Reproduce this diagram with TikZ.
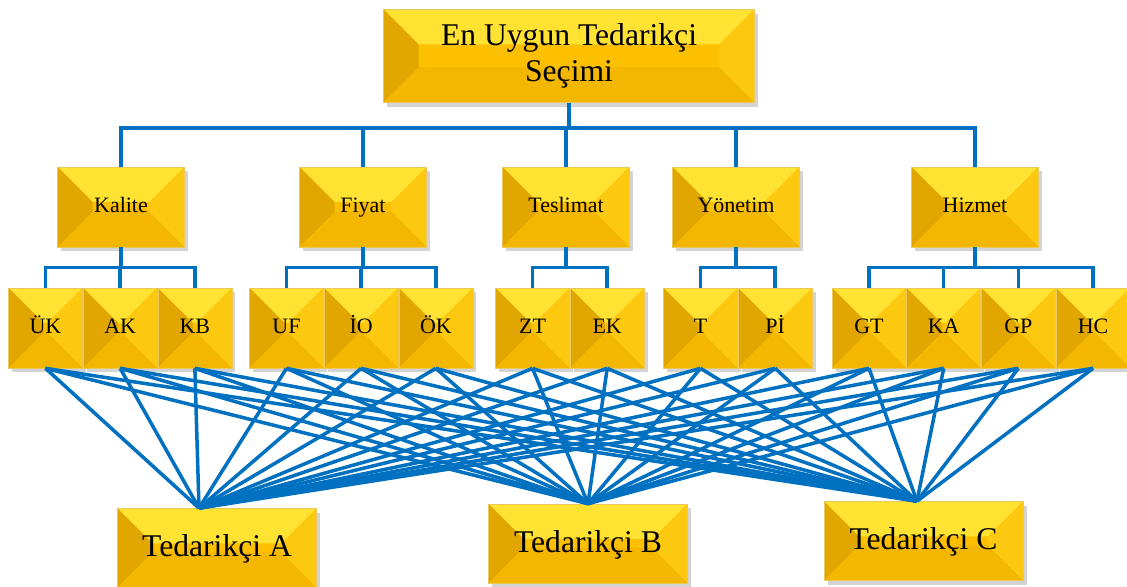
\documentclass[tikz,border=0pt]{standalone}
\usepackage{fontspec}
\setmainfont{Liberation Serif}
\usepackage{tikz}
\usetikzlibrary{shadows,positioning}
\usepackage{xcolor}
\definecolor{sblue}{RGB}{0,112,192}
\definecolor{gcenter}{RGB}{252,192,0}
\definecolor{gtop}{RGB}{255,226,50}
\definecolor{gleft}{RGB}{226,166,0}
\definecolor{gright}{RGB}{253,201,16}
\definecolor{gbottom}{RGB}{244,183,0}
\definecolor{gedge}{RGB}{235,200,90}
\tikzstyle{link} = [line width=2pt, color=sblue]
\tikzstyle{bevel} = [rectangle, draw=gedge, line width=0.4pt, fill=gcenter, align=center, inner sep=0pt,
  drop shadow={opacity=0.35, shadow xshift=2pt, shadow yshift=-2.5pt},
  path picture={
    \fill[gtop] (path picture bounding box.north west) -- (path picture bounding box.north east)
      -- ([shift={(-0.7cm,-0.7cm)}]path picture bounding box.north east)
      -- ([shift={(0.7cm,-0.7cm)}]path picture bounding box.north west) -- cycle;
    \fill[gleft] (path picture bounding box.north west) -- (path picture bounding box.south west)
      -- ([shift={(0.7cm,0.7cm)}]path picture bounding box.south west)
      -- ([shift={(0.7cm,-0.7cm)}]path picture bounding box.north west) -- cycle;
    \fill[gright] (path picture bounding box.north east) -- (path picture bounding box.south east)
      -- ([shift={(-0.7cm,0.7cm)}]path picture bounding box.south east)
      -- ([shift={(-0.7cm,-0.7cm)}]path picture bounding box.north east) -- cycle;
    \fill[gbottom] (path picture bounding box.south west) -- (path picture bounding box.south east)
      -- ([shift={(-0.7cm,0.7cm)}]path picture bounding box.south east)
      -- ([shift={(0.7cm,0.7cm)}]path picture bounding box.south west) -- cycle;
  }]
\tikzstyle{goal} = [bevel, minimum width=7.42cm, minimum height=1.86cm, font=\fontsize{18}{20.5}\selectfont]
\tikzstyle{crit} = [bevel, minimum width=2.54cm, minimum height=1.6cm, text height=9pt, text depth=3pt, font=\fontsize{12.5}{15}\selectfont]
\tikzstyle{sub} = [bevel, minimum width=1.48cm, minimum height=1.6cm, text height=9pt, text depth=3pt, font=\fontsize{12.5}{15}\selectfont]
\tikzstyle{supplier} = [bevel, minimum width=3.98cm, minimum height=1.58cm, text height=13pt, text depth=3pt, font=\fontsize{18}{21}\selectfont]

\begin{document}
\begin{tikzpicture}[x=0.02cm, y=-0.02cm]
\useasboundingbox (0,0) rectangle (1127,587);

% Goal
\node (goal) [goal] at (569,56) {En Uygun Tedarikçi\\Seçimi};

% Criteria
\node (kal) [crit] at (121,207) {Kalite};
\node (fiy) [crit] at (363,207) {Fiyat};
\node (tes) [crit] at (566,207) {Teslimat};
\node (yon) [crit] at (736,207) {Yönetim};
\node (hiz) [crit] at (975,207) {Hizmet};

% Sub-criteria
\node (uk) [sub] at (45.5,328) {ÜK};
\node (ak) [sub, right=0pt of uk] {AK};
\node (kb) [sub, right=0pt of ak] {KB};
\node (uf) [sub] at (286.5,328) {UF};
\node (io) [sub, right=0pt of uf] {İO};
\node (ok) [sub, right=0pt of io] {ÖK};
\node (zt) [sub] at (532.5,328) {ZT};
\node (ek) [sub, right=0pt of zt] {EK};
\node (t) [sub] at (700.5,328) {T};
\node (pi) [sub, right=0pt of t] {Pİ};
\node (gt) [sub] at (869,328) {GT};
\node (ka) [sub, right=0pt of gt] {KA};
\node (gp) [sub, right=0pt of ka] {GP};
\node (hc) [sub, right=0pt of gp] {HC};

% Suppliers
\node (supa) [supplier] at (217,548) {Tedarikçi A};
\node (supb) [supplier] at (588,543.5) {Tedarikçi B};
\node (supc) [supplier] at (923.5,541) {Tedarikçi C};
\coordinate (ina) at ([xshift=-0.36cm]supa.north);
\coordinate (inb) at (supb.north);
\coordinate (inc) at ([xshift=-0.13cm]supc.north);

% Tree connections
\foreach \c in {kal,fiy,tes,yon,hiz}
  \draw[link] (goal.south) -- ++(0,25) -| (\c.north);
\foreach \s in {uk,ak,kb}
  \draw[link] (kal.south) -- ++(0,20) -| (\s.north);
\foreach \s in {uf,io,ok}
  \draw[link] (fiy.south) -- ++(0,20) -| (\s.north);
\foreach \s in {zt,ek}
  \draw[link] (tes.south) -- ++(0,20) -| (\s.north);
\foreach \s in {t,pi}
  \draw[link] (yon.south) -- ++(0,20) -| (\s.north);
\foreach \s in {gt,ka,gp,hc}
  \draw[link] (hiz.south) -- ++(0,20) -| (\s.north);

% Sub-criteria to suppliers
\foreach \s in {uk,ak,kb,uf,io,ok,zt,ek,t,pi,gt,ka,gp,hc}
  \foreach \p in {ina,inb,inc}
    \draw[link] (\s.south) -- (\p);
\end{tikzpicture}
\end{document}
